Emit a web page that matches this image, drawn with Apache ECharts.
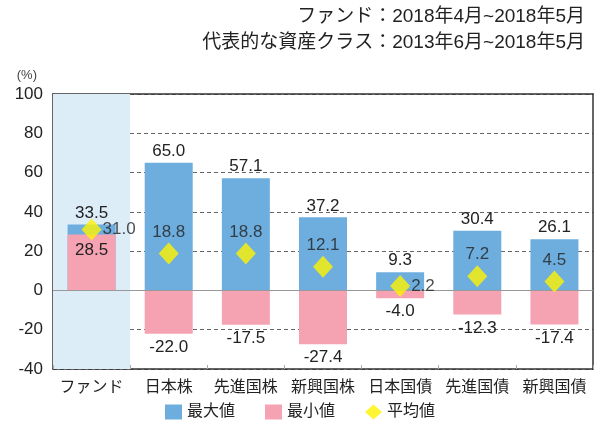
<!DOCTYPE html>
<html>
<head>
<meta charset="utf-8">
<script src="https://cdn.jsdelivr.net/npm/echarts@6/dist/echarts.min.js"></script>
<style>html,body{margin:0;padding:0;background:#fff}#c{width:600px;height:427px}</style>
</head>
<body>
<div id="c"></div>
<script>
var categories = ['ファンド', '日本株', '先進国株', '新興国株', '日本国債', '先進国債', '新興国債'];
var maxValues = [33.5, 65.0, 57.1, 37.2, 9.3, 30.4, 26.1];
var minValues = [28.5, -22.0, -17.5, -27.4, -4.0, -12.3, -17.4];
var avgValues = [31.0, 18.8, 18.8, 12.1, 2.2, 7.2, 4.5];
var yTicks = [-40, -20, 0, 20, 40, 60, 80, 100];
var seriesNames = ['最大値', '最小値', '平均値'];
var titleLines = ['ファンド：2018年4月~2018年5月', '代表的な資産クラス：2013年6月~2018年5月'];

var FONT = '"Liberation Sans", "Noto Sans CJK JP", sans-serif';
var chart = echarts.init(document.getElementById('c'));

var avgData = avgValues.map(function (v, i) {
  var d = { value: v };
  if (i === 0 || i === 4) {
    d.label = { position: 'right', distance: 1 };
  }
  return d;
});
var minData = minValues.map(function (v) {
  return { value: v, label: { position: v >= 0 ? 'insideTop' : 'bottom', distance: v >= 0 ? 7 : 5 } };
});
var axisBlack = { show: true, onZero: false, lineStyle: { color: '#333', width: 1.5 } };

chart.setOption({
  animation: false,
  textStyle: { fontFamily: FONT },
  title: titleLines.map(function (t, i) {
    return { text: t, right: 10, top: 2 + i * 26,
      textStyle: { fontSize: 19, fontWeight: 'normal', color: '#222', fontFamily: FONT } };
  }),
  legend: {
    bottom: 2, left: 'center',
    itemWidth: 17, itemHeight: 15, itemGap: 30,
    textStyle: { fontSize: 16, color: '#222', fontFamily: FONT },
    data: [
      { name: seriesNames[0], icon: 'rect' },
      { name: seriesNames[1], icon: 'rect' },
      { name: seriesNames[2], icon: 'diamond' }
    ]
  },
  grid: { left: 53, right: 7, top: 94, bottom: 58 },
  xAxis: [{
    type: 'category', data: categories, position: 'bottom',
    axisLine: axisBlack,
    axisTick: { show: true, inside: true, length: 4, lineStyle: { color: '#aaa' } },
    axisLabel: { fontSize: 16, color: '#222', margin: 11, fontFamily: FONT, interval: 0 }
  }, {
    type: 'category', data: categories, position: 'top',
    axisLine: axisBlack, axisTick: { show: false }, axisLabel: { show: false }
  }],
  yAxis: [{
    type: 'value', min: -40, max: 100, interval: 20,
    name: '(%)', nameLocation: 'end', nameGap: 12,
    nameTextStyle: { fontSize: 13, color: '#444', align: 'right', padding: [0, 16, 0, 0] },
    axisLine: axisBlack, axisTick: { show: false },
    axisLabel: { fontSize: 17, color: '#222', margin: 10, fontFamily: FONT,
      formatter: function (v) { return yTicks.indexOf(v) >= 0 ? String(v) : ''; } },
    splitLine: { show: true, lineStyle: { color: '#666', type: [4, 3], width: 1 } }
  }, {
    type: 'value', min: -40, max: 100, interval: 20, position: 'right',
    axisLine: axisBlack, axisTick: { show: false }, axisLabel: { show: false }, splitLine: { show: false }
  }],
  series: [
    {
      name: 'bgTop', type: 'bar', xAxisIndex: 1, barWidth: '100%', stack: 'bg', silent: true,
      data: categories.map(function (c, i) { return i === 0 ? 100 : '-'; }),
      itemStyle: { color: '#dcedf8' }, z: 0
    },
    {
      name: 'bgBottom', type: 'bar', xAxisIndex: 1, barWidth: '100%', stack: 'bg', silent: true,
      data: categories.map(function (c, i) { return i === 0 ? -40 : '-'; }),
      itemStyle: { color: '#dcedf8' }, z: 0
    },
    {
      name: seriesNames[0], type: 'bar', data: maxValues, barWidth: 48, barGap: '-100%',
      itemStyle: { color: '#6eaede' }, z: 2,
      label: { show: true, position: 'top', distance: 3, fontSize: 17, color: '#222', fontFamily: FONT,
        formatter: function (p) { return p.value.toFixed(1); } },
      markLine: { silent: true, symbol: 'none', label: { show: false },
        lineStyle: { color: '#999', type: 'solid', width: 1 }, data: [{ yAxis: 0 }] }
    },
    {
      name: seriesNames[1], type: 'bar', data: minData, barWidth: 48, barGap: '-100%',
      itemStyle: { color: '#f5a3b3' }, z: 3,
      label: { show: true, fontSize: 17, color: '#222', fontFamily: FONT,
        formatter: function (p) { return p.value.toFixed(1); } }
    },
    {
      name: seriesNames[2], type: 'scatter', data: avgData, symbol: 'diamond', symbolSize: [20, 22],
      itemStyle: { color: '#fff200' }, z: 5,
      label: { show: true, position: 'top', distance: 2, fontSize: 17, color: '#222', fontFamily: FONT,
        formatter: function (p) { return p.value.toFixed(1); } }
    }
  ]
});
</script>
</body>
</html>
